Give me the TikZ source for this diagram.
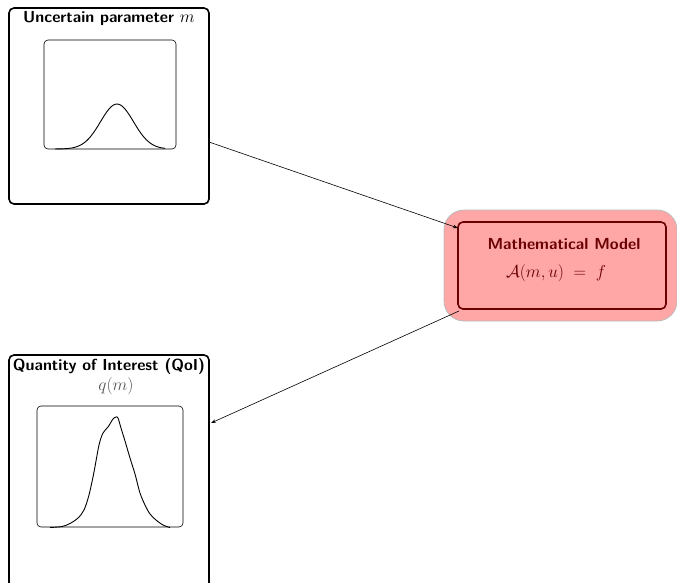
\documentclass[tikz,border=0pt]{standalone}
\usetikzlibrary{arrows.meta}
\definecolor{halo}{HTML}{FFA6A6}
\definecolor{haloedge}{HTML}{BBBBBB}
\definecolor{darkred}{HTML}{6A0000}
\definecolor{qgray}{HTML}{555555}
\tikzset{
  bigbox/.style={draw, line width=1.6pt, rounded corners=5pt, inner sep=0pt},
  plotframe/.style={draw, line width=0.6pt, rounded corners=4pt},
  curve/.style={line width=0.9pt, smooth},
  title/.style={font=\fontsize{16}{19}\selectfont\sffamily\bfseries, inner sep=0pt},
  mathtext/.style={font=\fontsize{16.4}{19}\selectfont, inner sep=0pt},
  conn/.style={line width=0.6pt, -{Stealth[length=5pt,width=3.5pt]}},
}
\begin{document}
\begin{tikzpicture}[x=1pt,y=-1pt]
\useasboundingbox (0,0) rectangle (677,582);
\clip (0,0) rectangle (677,582);
% top box
\node[bigbox, minimum width=200pt, minimum height=196pt] (top) at (109,106) {};
\node[title] (toptitle) at (109,18) {Uncertain parameter $m$};
\draw[plotframe] (44,40) rectangle (176,149);
\draw[curve, domain=55:165, samples=60] plot (\x, {149-45*exp(-((\x-117)/16.5)^2/2)});
% model
\node[fill=halo, draw=haloedge, line width=0.8pt, rounded corners=20pt, minimum width=233pt, minimum height=111pt] (halo) at (560.5,265.5) {};
\node[draw=darkred, line width=1.6pt, rounded corners=5pt, minimum width=208pt, minimum height=87pt] (model) at (562,265.5) {};
\node[title, text=darkred] (modeltitle) at (564,244) {Mathematical Model};
\node[mathtext, text=darkred] (modeleq) at (556,273) {$\mathcal{A}(m,u) \;=\; f$};
% bottom box
\node[bigbox, minimum width=200pt, minimum height=240pt] (bot) at (109,475) {};
\node[title] (bottitle) at (109,366) {Quantity of Interest (QoI)};
\node[mathtext, text=qgray] (botq) at (116,386) {$q(m)$};
\draw[plotframe] (37,406) rectangle (183,527);
\draw[curve] plot coordinates {(50,527.5) (62,526.5) (70,523.5) (78,518) (84,510) (89,495) (94,472) (99,445) (103,433) (108,427) (113,419) (116,417) (118,418) (121,428) (125,441) (130,458) (135,474) (140,493) (145,505) (150,514) (156,520) (163,525) (170,527.5)};
% connectors
\coordinate (a1s) at (209,142);
\coordinate (a1e) at (458,228);
\coordinate (a2s) at (459,311);
\coordinate (a2e) at (211,423);
\draw[conn] (a1s) -- (a1e);
\draw[conn] (a2s) -- (a2e);
\end{tikzpicture}
\end{document}
